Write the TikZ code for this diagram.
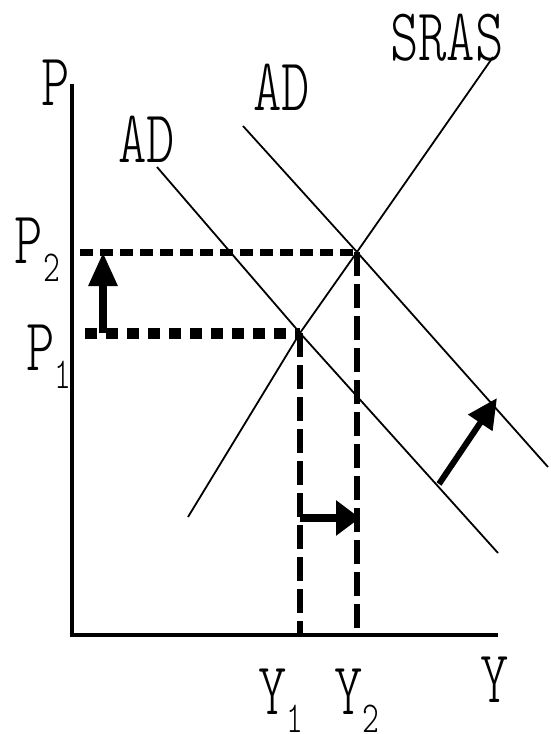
\documentclass[tikz,border=0pt]{standalone}
\usetikzlibrary{arrows.meta}
\newcommand\lbltxt[1]{\scalebox{1}[1.38]{\fontsize{54}{54}\ttfamily\fontseries{l}\selectfont #1}}
\newcommand\subtxt[1]{\raisebox{-0.25em}{\fontsize{32}{32}\selectfont #1}}
\tikzset{
  curve/.style={line width=1.8pt, black},
  axis/.style={line width=3.2pt, black},
  vguide/.style={line width=6.5pt, black, dash pattern=on 24pt off 8pt},
  hguide/.style={line width=7pt, black, dash pattern=on 13pt off 7pt},
  hdots/.style={line width=11pt, black, dash pattern=on 12pt off 9pt},
  up arrow/.style={line width=8.5pt, black, -{Triangle[length=34pt,width=27pt]}},
  right arrow/.style={line width=8pt, black, -{Triangle[length=24pt,width=34pt]}},
  diag arrow/.style={line width=6pt, black, -{Triangle[length=30pt,width=28pt]}},
  lbl/.style={inner sep=0pt, outer sep=0pt, anchor=base west}
}
\begin{document}
\begin{tikzpicture}[x=1pt,y=-1pt]
\useasboundingbox (0,0) rectangle (550,734);
\fill[white] (0,0) rectangle (550,734);
% coordinates
\coordinate (O) at (72,635);
\coordinate (Ptop) at (72,84);
\coordinate (Xend) at (498,635);
\coordinate (E1) at (300,333);
\coordinate (E2) at (357,252);
\coordinate (Sbot) at (188,517);
\coordinate (Stop) at (493,57);
\coordinate (A1s) at (157,167);
\coordinate (A1e) at (498,553);
\coordinate (A2s) at (243,126);
\coordinate (A2e) at (548,467);
\coordinate (P2s) at (80,252);
\coordinate (P1s) at (85,333);
\coordinate (Y1b) at (300,635);
\coordinate (Y2b) at (357,635);
\coordinate (UAs) at (103,333);
\coordinate (UAe) at (103,252);
\coordinate (RAs) at (300,518);
\coordinate (RAe) at (360,518);
\coordinate (DAs) at (439,484);
\coordinate (DAe) at (497,398);
% axes
\draw[axis] (Ptop) -- (O) -- (Xend);
% curves
\draw[curve] (Sbot) -- (E1) -- (E2) -- (Stop);
\draw[curve] (A1s) -- (E1) -- (A1e);
\draw[curve] (A2s) -- (E2) -- (A2e);
% guides
\draw[hguide] (P2s) -- (E2);
\draw[hdots] (P1s) -- (E1);
\draw[vguide] (E1) -- (Y1b);
\draw[vguide] (E2) -- (Y2b);
% shift arrows
\draw[up arrow] (UAs) -- (UAe);
\draw[right arrow] (RAs) -- (RAe);
\draw[diag arrow] (DAs) -- (DAe);
% labels
\node[lbl] (lS) at (390,60) {\lbltxt{SRAS}};
\node[lbl] (lAD2) at (253,110) {\lbltxt{AD}};
\node[lbl] (lAD1) at (118,162) {\lbltxt{AD}};
\node[lbl] (lP) at (41,105) {\lbltxt{P}};
\node[lbl] (lP2) at (15,263) {\lbltxt{P\subtxt{2}}};
\node[lbl] (lP1) at (26,370) {\lbltxt{P\subtxt{1}}};
\node[lbl] (lY1) at (258,714) {\lbltxt{Y\subtxt{1}}};
\node[lbl] (lY2) at (334,714) {\lbltxt{Y\subtxt{2}}};
\node[lbl] (lY) at (480,702) {\lbltxt{Y}};
\end{tikzpicture}
\end{document}
